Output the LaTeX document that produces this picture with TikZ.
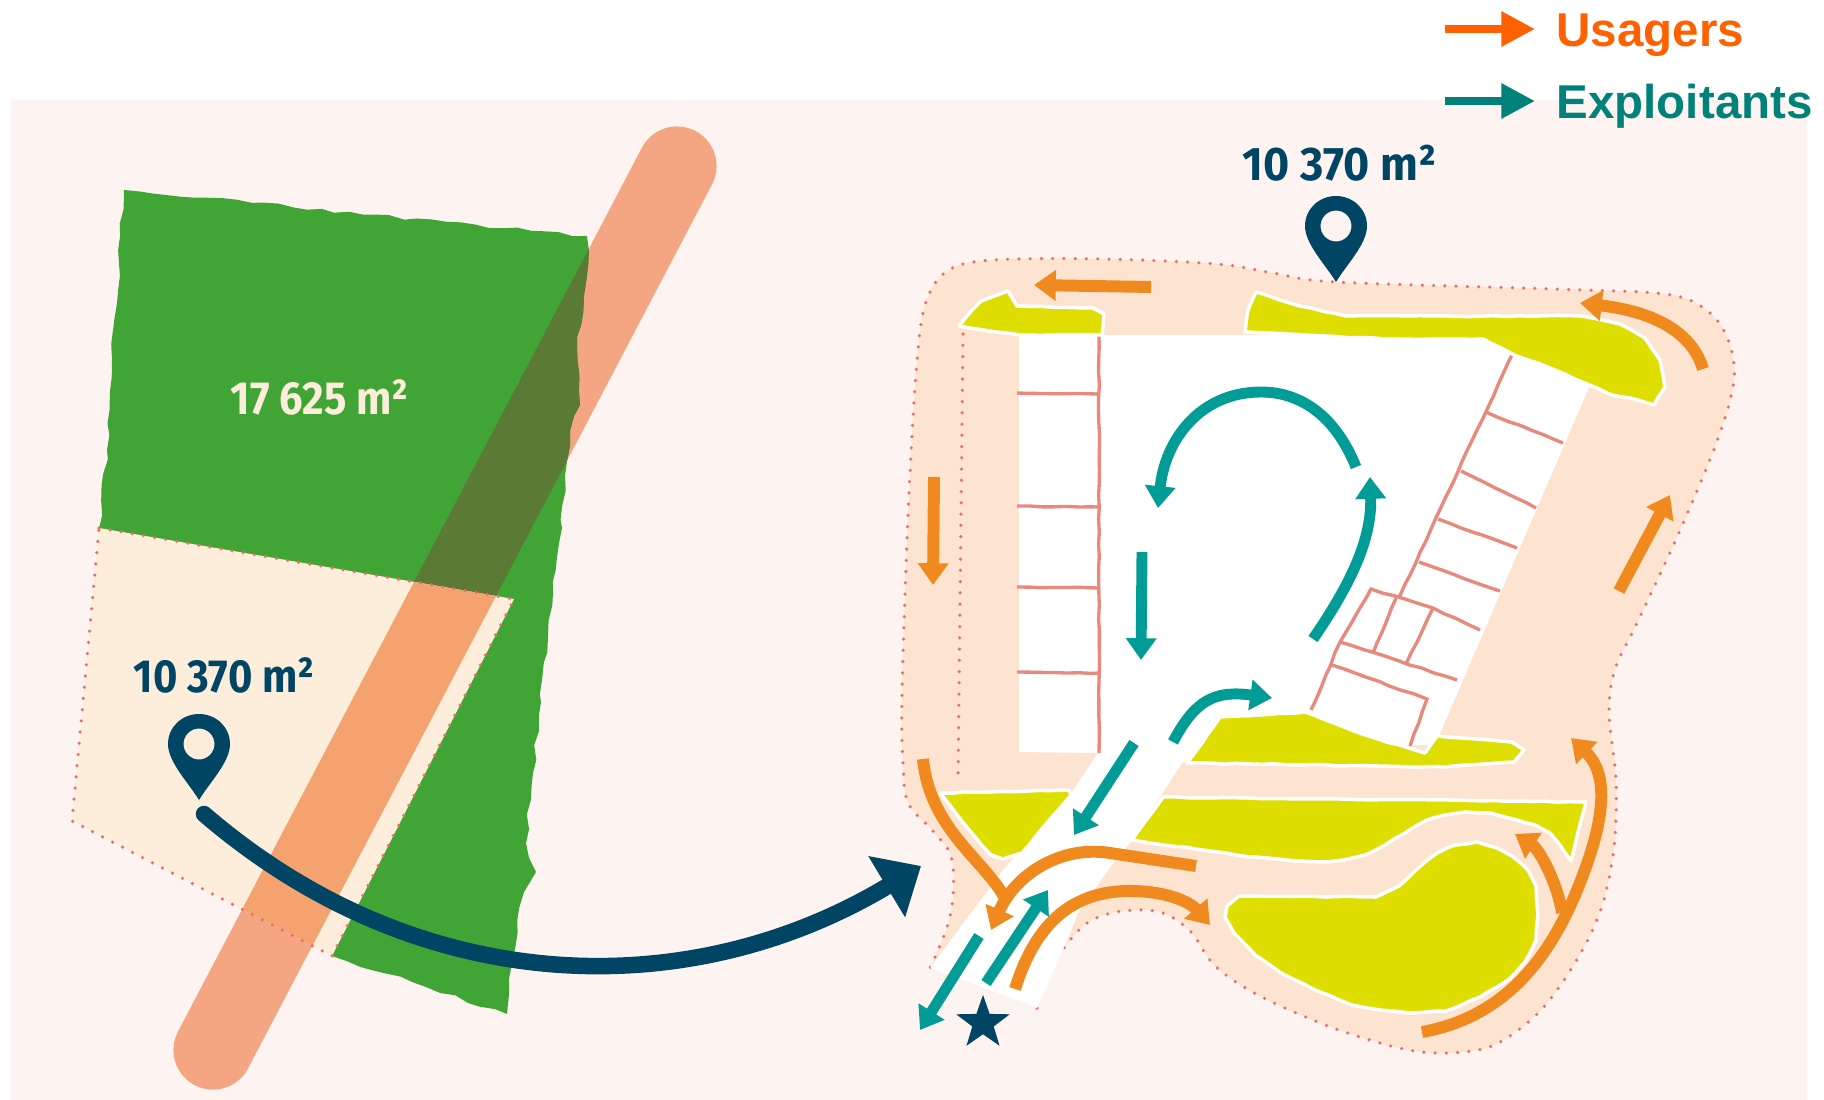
\documentclass[tikz,border=0pt]{standalone}
\usepackage{fontspec}
\usepackage{xcolor}
\usetikzlibrary{arrows.meta,decorations.pathmorphing,shapes.geometric}

\setmainfont{Liberation Sans}
\newfontfamily\labelfont[FakeStretch=0.9]{Fira Sans}
\newfontfamily\toplabelfont[FakeStretch=0.95]{Fira Sans}

\definecolor{pagetone}{HTML}{FDF3F0}
\definecolor{roadtone}{HTML}{F4A682}
\definecolor{roadcream}{HTML}{F4A26E}
\definecolor{roadgreen}{HTML}{5A7A35}
\definecolor{lotgreen}{HTML}{41A535}
\definecolor{lotcream}{HTML}{FDEEDC}
\definecolor{zonetone}{HTML}{FCE4D0}
\definecolor{zoneyellow}{HTML}{DEDE00}
\definecolor{redline}{HTML}{E8897D}
\definecolor{reddot}{HTML}{EA6F68}
\definecolor{navy}{HTML}{004564}
\definecolor{flowuser}{HTML}{F08A1E}
\definecolor{flowstaff}{HTML}{009C95}
\definecolor{keyuser}{HTML}{FF6000}
\definecolor{keystaff}{HTML}{00827A}

\tikzset{
  dotline/.style={draw=reddot, line width=1pt, line cap=round, dash pattern=on 0pt off 3.2pt},
  wavy/.style={decorate, decoration={random steps, segment length=4pt, amplitude=.6pt}},
  rough/.style={decorate, decoration={random steps, segment length=3.5pt, amplitude=.16pt}},
  parkline/.style={draw=redline, line width=.95pt, rough},
  yellowzone/.style={fill=zoneyellow, draw=white, line width=1pt, line join=round, rough},
  userflow/.style={draw=flowuser, line width=3.4pt, -{Triangle[length=6.2pt,width=8.4pt]}},
  staffflow/.style={draw=flowstaff, line width=3.1pt, -{Triangle[length=6.2pt,width=8.4pt]}},
  arealabel/.style={font=\labelfont\bfseries\fontsize{13.2pt}{15pt}\selectfont, anchor=base west, inner sep=0pt},
  keylabel/.style={font=\bfseries\fontsize{13.5pt}{16pt}\selectfont, anchor=base west, inner sep=0pt},
  pics/mappin/.style={code={
    \fill[navy, even odd rule] (-31,0) .. controls (-31,-17) and (-17,-30) .. (0,-30)
      .. controls (17,-30) and (31,-17) .. (31,0) .. controls (31,18) and (11,38) .. (0,56)
      .. controls (-11,38) and (-31,18) .. (-31,0) -- cycle (0,0) circle (15.5);
  }}
}

\newcommand{\lotplot}{(124,190) -- (587,236) -- (589,251) -- (584,296) -- (577,348) -- (580,405) -- (570,431) -- (565,476) -- (562,528) -- (553,592) -- (548,637) -- (541,702) -- (533,773) -- (526,843) -- (536,872) -- (524,892) -- (509,979) -- (507,1014) -- (332,956) -- (99,528) -- (107,450) -- (112,360) -- (119,264) -- cycle}
\newcommand{\creamplot}{(99,528) -- (514,599) -- (332,956) -- (72,821) -- cycle}
\newcommand{\roadplot}{(677,166) -- (213,1050)}

\begin{document}
\begin{tikzpicture}[x=0.01cm, y=-0.01cm]
    \useasboundingbox (0,0) rectangle (1824,1100);

    % Page tone
    \fill[pagetone] (11,100) rectangle (1807,1100);

    % Road and lot
    \draw[roadtone, line width=22.5pt, line cap=round] \roadplot;
    \pgfmathsetseed{11}
    \fill[lotgreen, wavy] \lotplot;
    \begin{scope}
        \pgfmathsetseed{11}
        \clip[wavy] \lotplot;
        \draw[roadgreen, line width=22.5pt] \roadplot;
    \end{scope}
    \fill[lotcream] \creamplot;
    \begin{scope}
        \clip \creamplot;
        \draw[roadcream, line width=22.5pt] \roadplot;
    \end{scope}
    \draw[dotline] \creamplot;

    % Area round the site
    \draw[dotline, fill=zonetone] plot[smooth, tension=.55] coordinates {(1037,1008) (1043,980) (1055,960) (1083,926) (1111,913) (1144,910) (1168,915) (1192,933) (1215,966) (1258,995) (1328,1026) (1399,1048) (1446,1053) (1494,1045) (1541,1010) (1579,956) (1602,906) (1614,847) (1616,780) (1609,713) (1615,669) (1637,623) (1677,537) (1716,444) (1734,380) (1727,337) (1705,309) (1665,294) (1553,289) (1336,282) (1273,273) (1217,264) (1104,259) (992,260) (947,271) (925,305) (916,373) (908,516) (902,694) (903,763) (908,803) (932,830) (951,856) (953,896) (946,930) (930,968)};
    \draw[dotline] (963,334) -- (958,782);

    % White ground
    \fill[white] (1019,335) -- (1490,335) -- (1590,385) -- (1435,745) -- (1250,745) -- (1182,763) -- (1130,843) -- (1111,866) -- (1078,913) -- (1069,936) -- (1037,1008) -- (930,968) -- (1003,870) -- (1073,790) -- (1098,753) -- (1019,752) -- cycle;

    % Parking lines, left
    \draw[parkline] (1099,335) -- (1099,753);
    \draw[parkline] (1017,393) -- (1099,394);
    \draw[parkline] (1017,506) -- (1099,507);
    \draw[parkline] (1017,587) -- (1099,588);
    \draw[parkline] (1017,672) -- (1099,673);

    % Parking lines, right
    \draw[parkline] (1514,351) -- (1399,598);
    \draw[parkline] (1486,412) -- (1563,443);
    \draw[parkline] (1461,471) -- (1536,508);
    \draw[parkline] (1438,519) -- (1517,548);
    \draw[parkline] (1419,562) -- (1500,591);
    \draw[parkline] (1311,710) -- (1340,642) -- (1371,589) -- (1433,608) -- (1480,630);
    \draw[parkline] (1396,598) -- (1373,653);
    \draw[parkline] (1433,608) -- (1406,664);
    \draw[parkline] (1340,642) -- (1457,680);
    \draw[parkline] (1332,665) -- (1427,699) -- (1410,746);

    % Planted areas
    \draw[yellowzone] (959,326) -- (972,310) -- (981,301) -- (1008,291) -- (1017,306) -- (1093,308) -- (1104,314) -- (1102,335) -- (1020,335) -- cycle;
    \draw[yellowzone] (1245,332) -- (1248,310) -- (1256,292) -- (1300,306) -- (1346,316) -- (1581,316) -- (1620,324) -- (1645,338) -- (1660,360) -- (1665,387) -- (1654,405) -- (1630,398) -- (1609,394) -- (1587,384) -- (1550,368) -- (1514,355) -- (1483,339) -- (1385,339) -- cycle;
    \draw[yellowzone] (1220,717) -- (1305,712) -- (1365,735) -- (1425,753) -- (1437,736) -- (1512,742) -- (1524,750) -- (1514,762) -- (1446,767) -- (1187,763) -- cycle;
    \draw[yellowzone] (1163,797) -- (1586,802) -- (1571,861) -- (1560,845) -- (1550,833) -- (1535,825) -- (1517,820) -- (1490,813) -- (1465,812) -- (1445,815) -- (1427,820) -- (1405,833) -- (1385,845) -- (1365,855) -- (1343,860) -- (1320,862) -- (1295,861) -- (1250,857) -- (1210,851) -- (1132,840) -- cycle;
    \draw[yellowzone] (1225,917) -- (1227,906) -- (1239,896) -- (1376,897) -- (1399,886) -- (1418,868) -- (1437,853) -- (1455,845) -- (1477,842) -- (1497,848) -- (1512,856) -- (1528,870) -- (1536,886) -- (1538,915) -- (1536,940) -- (1525,962) -- (1508,980) -- (1480,997) -- (1446,1011) -- (1409,1013) -- (1380,1010) -- (1352,1005) -- (1315,990) -- (1281,973) -- (1255,955) -- (1234,933) -- cycle;
    \draw[yellowzone] (940,793) -- (1069,790) -- (1071,795) -- (1045,825) -- (1022,853) -- (1003,859) -- (991,855) -- (965,825) -- cycle;

    % Flows of users
    \draw[userflow] (1151,287) -- (1034,285);
    \draw[userflow] (1703,369) .. controls (1690,325) and (1640,310) .. (1580,303);
    \draw[userflow] (934,477) -- (933,585);
    \draw[userflow] (1619,591) -- (1670,495);
    \draw[draw=flowuser, line width=3.4pt] (923,759) .. controls (930,830) and (985,860) .. (1006,900);
    \draw[userflow] (1196,866) -- (1110,853) .. controls (1060,845) and (1015,875) .. (991,930);
    \draw[userflow] (1015,989) .. controls (1035,925) and (1070,893) .. (1125,891) .. controls (1165,890) and (1190,902) .. (1210,925);
    \draw[userflow] (1422,1032) .. controls (1500,1018) and (1545,965) .. (1575,895) .. controls (1598,840) and (1615,780) .. (1571,738);
    \draw[userflow] (1562,913) .. controls (1558,885) and (1540,850) .. (1515,834);

    % Flows of operators
    \draw[staffflow] (1356,467) .. controls (1335,415) and (1300,392) .. (1261,392) .. controls (1200,392) and (1165,440) .. (1158,508);
    \draw[staffflow] (1313,639) .. controls (1350,585) and (1372,540) .. (1370,477);
    \draw[staffflow] (1142,552) -- (1141,660);
    \draw[staffflow] (1173,742) .. controls (1195,700) and (1215,690) .. (1272,698);
    \draw[staffflow] (1134,743) -- (1074,835);
    \draw[staffflow] (986,983) -- (1048,890);
    \draw[staffflow] (979,936) -- (920,1030);

    % Pins and main arrow
    \pic at (199,744) {mappin};
    \pic at (1336,226) {mappin};
    \coordinate (pinfoot) at (204,814);
    \coordinate (sitefoot) at (921,866);
    \draw[navy, line width=4.7pt, line cap=round, -{Triangle[length=11.4pt,width=19.6pt]}] (pinfoot) .. controls (420,1000) and (690,1005) .. (sitefoot);
    \node[star, star points=5, star point ratio=2.5, fill=navy, minimum size=16pt, inner sep=0pt] (sitestar) at (983,1023) {};

    % Labels
    \node[arealabel, text=lotcream] (lotlabel) at (230,414) {17 625 m²};
    \node[arealabel, text=navy] (leftlabel) at (133,692) {10 370 m²};
    \node[arealabel, text=navy, font=\toplabelfont\bfseries\fontsize{13.4pt}{15pt}\selectfont] (toplabel) at (1242,180) {10 370 m²};

    % Key
    \coordinate (userfrom) at (1445,29);
    \coordinate (userto) at (1535,29);
    \coordinate (stafffrom) at (1445,101);
    \coordinate (staffto) at (1535,101);
    \draw[keyuser, line width=2.3pt, -{Triangle[length=9.6pt,width=9.5pt]}] (userfrom) -- (userto);
    \draw[keystaff, line width=2.3pt, -{Triangle[length=9.6pt,width=9.5pt]}] (stafffrom) -- (staffto);
    \node[keylabel, text=keyuser] (userlabel) at (1556,47) {Usagers};
    \node[keylabel, text=keystaff] (stafflabel) at (1556,118) {Exploitants};

\end{tikzpicture}
\end{document}
